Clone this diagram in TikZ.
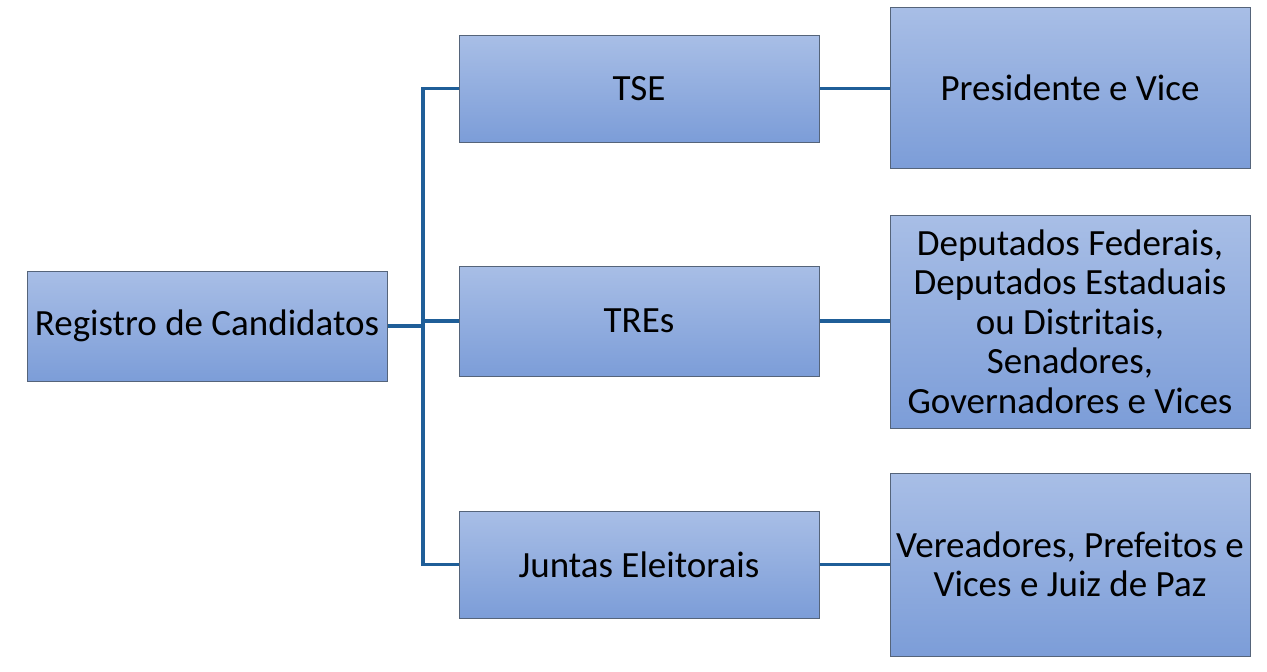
\documentclass[tikz,border=0pt]{standalone}
\usepackage{fontspec}
\setmainfont{Carlito}
\usetikzlibrary{positioning}
\definecolor{boxtop}{RGB}{168,190,230}
\definecolor{boxbottom}{RGB}{124,157,216}
\definecolor{boxline}{RGB}{85,100,122}
\definecolor{linkblue}{RGB}{31,94,152}
\tikzset{
  orgbox/.style={draw=boxline, line width=1pt, top color=boxtop, bottom color=boxbottom,
    minimum width=360pt, align=center, inner sep=0pt,
    font=\fontsize{37}{39.5}\selectfont},
  link/.style={draw=linkblue, line width=3.5pt}
}

\begin{document}
\begin{tikzpicture}[x=1pt,y=-1pt]
  \useasboundingbox (0,0) rectangle (1267,672);
  \node[orgbox, minimum height=110pt] (reg) at (207,326) {Registro de Candidatos};
  \node[orgbox, minimum height=107pt] (tse) at (639,88.5) {TSE};
  \node[orgbox, minimum height=110pt] (tres) at (639,321) {TREs};
  \node[orgbox, minimum height=107pt] (juntas) at (639,564.5) {Juntas Eleitorais};
  \node[orgbox, minimum height=161pt] (pres) at (1070,87.5) {Presidente e Vice};
  \node[orgbox, minimum height=213pt] (dep) at (1070,321.5) {Deputados Federais,\\Deputados Estaduais\\ou Distritais,\\Senadores,\\Governadores e Vices};
  \node[orgbox, minimum height=183pt] (ver) at (1070,564.5) {Vereadores, Prefeitos e\\Vices e Juiz de Paz};
  \coordinate (hub) at (423,323);

  \path[link] (reg.east) -- (reg.east -| hub);
  \path[link] (hub) |- (tse.west);
  \path[link] (hub) |- (tres.west);
  \path[link] (hub) |- (juntas.west);
  \path[link] (tse.east) -- (tse.east -| pres.west);
  \path[link] (tres.east) -- (tres.east -| dep.west);
  \path[link] (juntas.east) -- (juntas.east -| ver.west);
\end{tikzpicture}
\end{document}
